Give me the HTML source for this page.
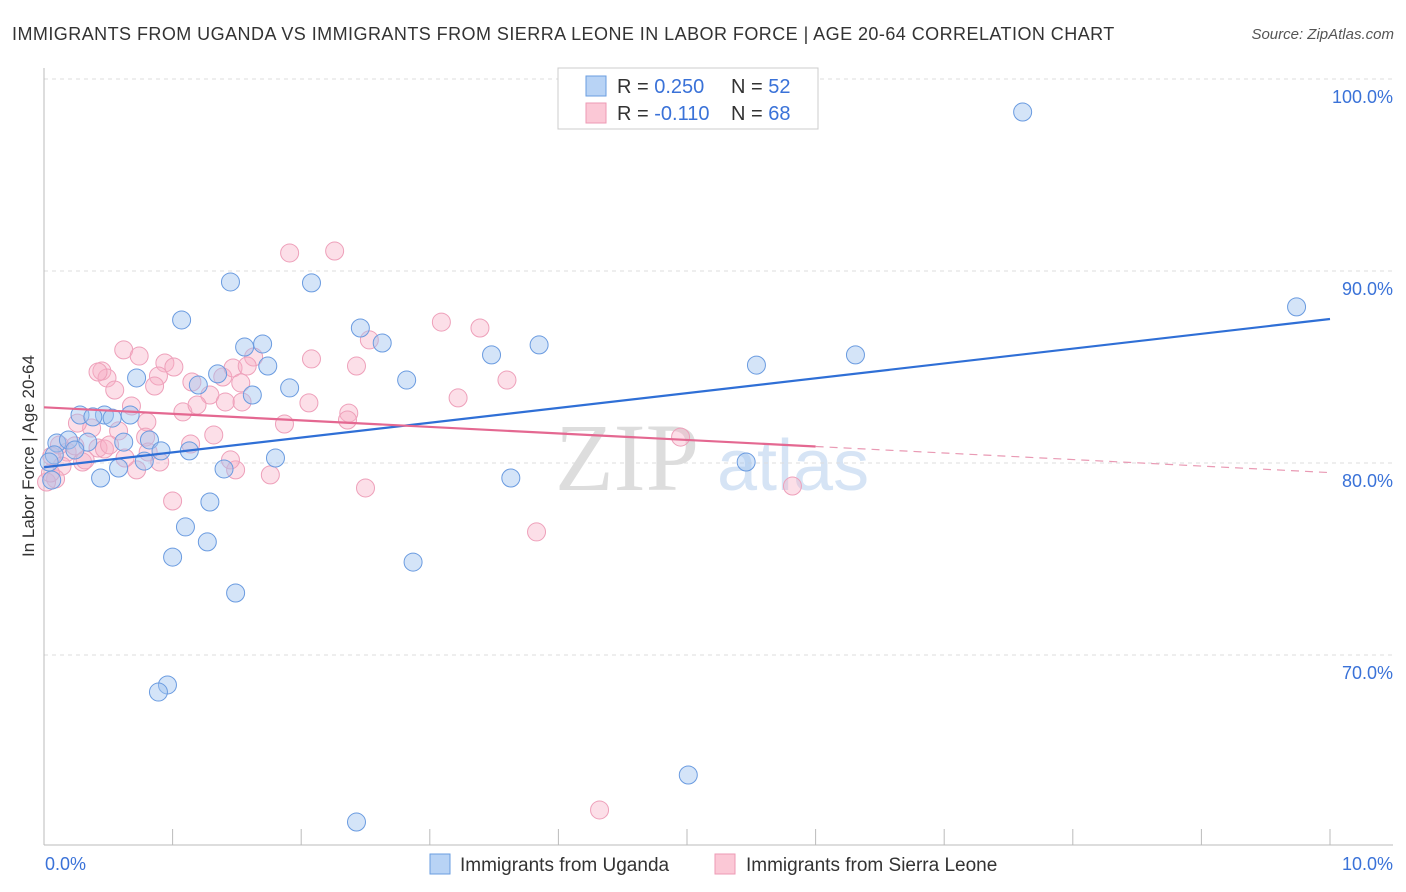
<!DOCTYPE html>
<html><head><meta charset="utf-8"><style>
body{margin:0;background:#fff;font-family:"Liberation Sans",sans-serif}
svg{display:block}
</style></head><body>
<svg id="c" width="1406" height="892">
<text x="12" y="40" font-size="18" letter-spacing="0.45" fill="#333">IMMIGRANTS FROM UGANDA VS IMMIGRANTS FROM SIERRA LEONE IN LABOR FORCE | AGE 20-64 CORRELATION CHART</text>
<text x="1394" y="39" font-size="15" fill="#555" text-anchor="end" font-style="italic">Source: ZipAtlas.com</text>
<text x="555" y="490" font-size="96" fill="#ddd" font-family="Liberation Serif,serif">ZIP</text>
<text x="717" y="490" font-size="72" fill="#d6e4f5">atlas</text>
<g id="grid"></g><g id="pts"></g><g id="trend"></g>
<text transform="translate(34,456) rotate(-90)" font-size="17" fill="#333" text-anchor="middle">In Labor Force | Age 20-64</text>
<g>
<rect x="558" y="68" width="260" height="61" fill="#fff" stroke="#ccc"/>
<rect x="586" y="76" width="20" height="20" fill="#b8d3f5" stroke="#6a9ee0"/>
<rect x="586" y="103" width="20" height="20" fill="#fbc8d6" stroke="#ee9ab4"/>
<text x="617" y="93" font-size="20" fill="#333">R = <tspan fill="#3a72d8">0.250</tspan></text>
<text x="731" y="93" font-size="20" fill="#333">N = <tspan fill="#3a72d8">52</tspan></text>
<text x="617" y="120" font-size="20" fill="#333">R = <tspan fill="#3a72d8">-0.110</tspan></text>
<text x="731" y="120" font-size="20" fill="#333">N = <tspan fill="#3a72d8">68</tspan></text>
</g>
<g>
<rect x="430" y="854" width="20" height="20" fill="#b8d3f5" stroke="#6a9ee0"/>
<text x="460" y="871" font-size="19" fill="#333">Immigrants from Uganda</text>
<rect x="715" y="854" width="20" height="20" fill="#fbc8d6" stroke="#ee9ab4"/>
<text x="746" y="871" font-size="19" fill="#333">Immigrants from Sierra Leone</text>
</g>
</svg>
<script>
const xTicks=[0,1,2,3,4,5,6,7,8,9,10];
const yTicks=[70,80,90,100];
const yTickLabels=["70.0%","80.0%","90.0%","100.0%"];
const ugX=[7.61,9.74,1.45,2.08,1.07,2.46,2.63,1.56,1.70,3.85,3.48,6.31,5.54,1.74,0.72,1.35,1.20,2.82,1.91,1.62,0.28,0.47,0.67,0.38,0.53,0.10,0.19,0.34,0.62,0.82,0.91,1.13,0.24,0.08,0.04,0.78,1.80,0.58,1.40,5.46,0.44,3.63,0.06,1.29,1.10,1.27,1.00,2.87,1.49,0.96,0.89,5.01,2.43];
const ugY=[98.28,88.13,89.43,89.38,87.45,87.03,86.25,86.04,86.20,86.15,85.63,85.63,85.10,85.05,84.43,84.64,84.06,84.32,83.91,83.54,82.50,82.50,82.50,82.40,82.34,81.04,81.20,81.09,81.09,81.20,80.63,80.63,80.68,80.42,80.05,80.10,80.26,79.74,79.69,80.05,79.22,79.22,79.11,77.97,76.67,75.89,75.10,74.84,73.23,68.44,68.07,63.75,61.30];
const slX=[1.91,2.26,3.09,3.39,2.53,0.62,0.74,2.08,1.63,0.94,1.01,2.43,0.45,0.49,0.42,0.89,1.15,1.39,1.47,1.58,0.86,1.53,3.60,0.55,1.29,3.22,1.41,1.54,2.06,1.08,0.68,1.19,2.37,2.36,1.87,0.80,0.58,0.37,0.26,1.32,0.79,1.14,4.95,0.42,0.18,0.47,0.06,0.14,0.30,1.49,0.72,1.76,0.09,0.02,1.00,2.50,5.82,3.83,4.32,0.24,0.81,0.51,0.12,0.32,0.05,0.63,0.90,1.45];
const slY=[90.94,91.04,87.34,87.03,86.41,85.89,85.57,85.42,85.52,85.21,85.00,85.05,84.79,84.43,84.74,84.53,84.22,84.48,84.95,85.05,84.01,84.17,84.32,83.80,83.54,83.39,83.18,83.18,83.13,82.66,82.97,83.02,82.60,82.24,82.03,82.14,81.67,81.82,82.08,81.46,81.35,80.99,81.35,80.78,80.57,80.73,80.36,79.84,80.05,79.64,79.64,79.38,79.17,79.01,78.02,78.70,78.80,76.41,61.93,80.89,80.57,80.94,80.94,80.16,79.48,80.26,80.05,80.16];
const ugTrend=[79.78,87.5];
const slTrend=[82.9,79.5];
const slSolidEnd=6.0;
const X=v=>44+v*128.6, Y=v=>79+(100-v)*19.2;
const NS="http://www.w3.org/2000/svg";
function mk(p,t,a){const e=document.createElementNS(NS,t);for(const k in a)e.setAttribute(k,a[k]);p.appendChild(e);return e;}
const svg=document.getElementById('c'),g=document.getElementById('grid'),pts=document.getElementById('pts'),tr=document.getElementById('trend');
yTicks.forEach((t,i)=>{
 const l=mk(g,'line',{x1:44,x2:1393,y1:Y(t),y2:Y(t),stroke:'#ddd','stroke-dasharray':'4,4'});
 
 
 const tx=mk(g,'text',{x:1393,y:Y(t)+24,'font-size':18,fill:'#3a72d8','text-anchor':'end'});
 tx.textContent=yTickLabels[i];
 
 
});
const ax=mk(g,'line',{x1:44,x2:44,y1:68,y2:845,stroke:'#bbb'});


const bx=mk(g,'line',{x1:44,x2:1393,y1:845,y2:845,stroke:'#bbb'});


xTicks.forEach(t=>{const l=mk(g,'line',{x1:X(t),x2:X(t),y1:829,y2:845,stroke:'#bbb'});
 
 });
const x0=mk(g,'text',{x:45,y:870,'font-size':18,fill:'#3a72d8'});x0.textContent='0.0%';


const x1=mk(g,'text',{x:1393,y:870,'font-size':18,fill:'#3a72d8','text-anchor':'end'});x1.textContent='10.0%';


slX.forEach((v,i)=>{const c=mk(pts,'circle',{cx:X(v),cy:Y(slY[i]),r:9,fill:'rgba(248,175,198,0.4)',stroke:'#eea0ba','stroke-width':1});
 
 });
ugX.forEach((v,i)=>{const c=mk(pts,'circle',{cx:X(v),cy:Y(ugY[i]),r:9,fill:'rgba(160,196,240,0.45)',stroke:'#6a9be0','stroke-width':1});
 
 });
const bl=mk(tr,'line',{x1:X(0),y1:Y(ugTrend[0]),x2:X(10),y2:Y(ugTrend[1]),stroke:'#2f6fd6','stroke-width':2.2});


const sm=slTrend[0]+(slTrend[1]-slTrend[0])*slSolidEnd/10;
const pl=mk(tr,'line',{x1:X(0),y1:Y(slTrend[0]),x2:X(slSolidEnd),y2:Y(sm),stroke:'#e46891','stroke-width':2.2});


const pd=mk(tr,'line',{x1:X(slSolidEnd),y1:Y(sm),x2:X(10),y2:Y(slTrend[1]),stroke:'#e99ab4','stroke-width':1.2,'stroke-dasharray':'8,6'});


</script>
</body></html>
